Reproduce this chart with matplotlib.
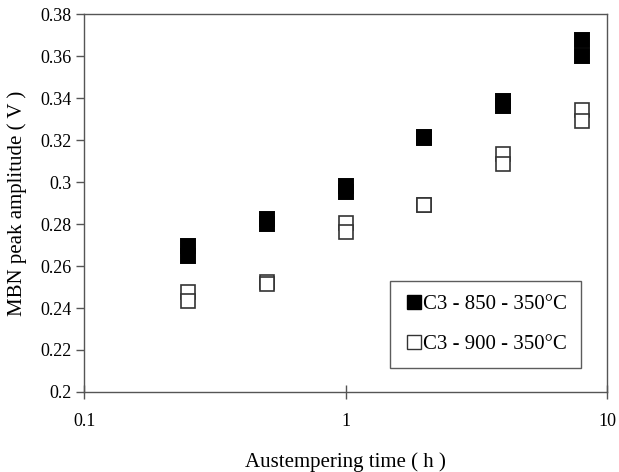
import numpy as np
import matplotlib
matplotlib.use('Agg')
from matplotlib import pyplot as plt
from matplotlib.lines import Line2D

# austempering time (h) and two readings per specimen
times = [0.25, 0.5, 1, 2, 4, 8]
c850_a = [0.2695, 0.2824, 0.2983, 0.3214, 0.3386, 0.3675]
c850_b = [0.2650, 0.2798, 0.2952, 0.3210, 0.3363, 0.3602]
c900_a = [0.2475, 0.2524, 0.2804, 0.2892, 0.3135, 0.3344]
c900_b = [0.2432, 0.2516, 0.2763, 0.2890, 0.3084, 0.3292]
labels = ['C3 - 850 - 350°C', 'C3 - 900 - 350°C']
yticks = [0.2, 0.22, 0.24, 0.26, 0.28, 0.3, 0.32, 0.34, 0.36, 0.38]

plt.rcParams['font.family'] = ['Liberation Serif', 'DejaVu Serif']

fig = plt.figure(figsize=(6.19, 4.72), dpi=100)
ax = fig.add_axes([0.1365, 0.1695, 0.8441, 0.8008])

ms = 9.8
for y in (c850_a, c850_b):
    ax.plot(times, y, 's', ms=ms, mfc='black', mec='black', mew=1.4, ls='none')
for y in (c900_a, c900_b):
    ax.plot(times, y, 's', ms=ms, mfc='white', mec='#333333', mew=1.2, ls='none')

ax.set_xscale('log')
ax.set_xlim(0.1, 10)
ax.set_ylim(0.2, 0.38)
ax.set_xticks([0.1, 1, 10])
ax.set_xticklabels(['0.1', '1', '10'])
ax.xaxis.set_minor_locator(matplotlib.ticker.NullLocator())
ax.set_yticks(yticks)
ax.set_yticklabels(['0.2' if v == 0.2 else '0.3' if v == 0.3 else '%.2f' % v for v in yticks])

for s in ax.spines.values():
    s.set_color('#555555')
    s.set_linewidth(1.0)
ax.tick_params(axis='y', direction='out', length=6, width=1, color='#555555', labelsize=13, pad=3)
ax.tick_params(axis='x', direction='inout', length=10, width=1, color='#555555', labelsize=13, pad=10)

ax.set_xlabel('Austempering time ( h )', fontsize=15, labelpad=16)
ax.set_ylabel('MBN peak amplitude ( V )', fontsize=15, labelpad=10)

handles = [
    Line2D([], [], marker='s', ls='none', ms=9.5, mfc='black', mec='black'),
    Line2D([], [], marker='s', ls='none', ms=9.5, mfc='white', mec='#333333', mew=1),
]
leg = ax.legend(handles, labels, loc='lower left', bbox_to_anchor=(0.585, 0.0635),
                borderaxespad=0, fontsize=15, frameon=True, fancybox=False,
                edgecolor='#333333', labelspacing=1.0, handlelength=1.0,
                handletextpad=-0.05, borderpad=0.65)
leg.get_frame().set_linewidth(1.0)

fig.savefig('out.png', dpi=100)
